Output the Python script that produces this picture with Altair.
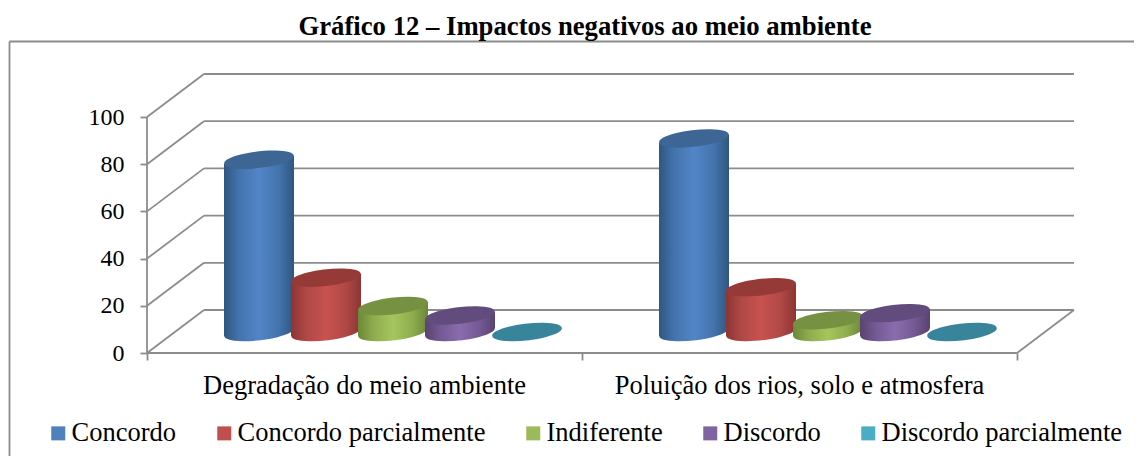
import altair as alt
import pandas as pd

TITLE = "Gráfico 12 – Impactos negativos ao meio ambiente"
CATEGORIES = ["Degradação do meio ambiente", "Poluição dos rios, solo e atmosfera"]
SERIES = ["Concordo", "Concordo parcialmente", "Indiferente", "Discordo", "Discordo parcialmente"]
VALUES = [
    [73, 82],
    [23, 19],
    [11, 5],
    [7, 8],
    [0, 0],
]
Y_TICKS = [0, 20, 40, 60, 80, 100]
LEGEND_COLORS = ["#4f81bd", "#c0504d", "#9bbb59", "#8064a2", "#4bacc6"]
TOP_COLORS = ["#3d6695", "#953a37", "#769141", "#624b7d", "#38859b"]
EDGE_COLORS = ["#2f5680", "#8c3533", "#6c8738", "#594370", "#38859b"]
MID_COLORS = ["#4474ad", "#b04946", "#8eac4e", "#745994", "#38859b"]
CENTER_COLORS = ["#5285c8", "#c8524f", "#a5c65c", "#8a6cae", "#38859b"]

FONT = "Liberation Serif"
GREY = "#8c8c8c"
PAGE_W, PAGE_H = 1126, 448
TOP = 33
PLOT_H = PAGE_H - TOP
X_UNIT = 435.0      # pixels per category
Y_UNIT = 2.36       # pixels per percent
BOTTOM_GAP = PAGE_H + 8 - 353
X_DOM = [-139 / X_UNIT, (PAGE_W - 139) / X_UNIT]
Y_DOM = [-BOTTOM_GAP / Y_UNIT, (PLOT_H - BOTTOM_GAP) / Y_UNIT]
DEPTH_X = 57 / X_UNIT
DEPTH_Y = 43 / Y_UNIT
BASE_Y = 21 / Y_UNIT
BAR_STEP = 67 / X_UNIT
BAR_HALF = 35 / X_UNIT
TILT = 4 / Y_UNIT
ELLIPSE = ("M-0.993,0.113 A1,0.23,-6.5,1,1,0.993,-0.113 "
           "A1,0.23,-6.5,1,1,-0.993,0.113 Z")

xs = alt.Scale(domain=X_DOM, nice=False, zero=False)
ys = alt.Scale(domain=Y_DOM, nice=False, zero=False)
X = lambda f: alt.X(f, type="quantitative", scale=xs, title=None)
Y = lambda f: alt.Y(f, type="quantitative", scale=ys, title=None)

# 3-D frame: left edge, floor front, floor side, wall lines and their diagonals
seg = []
seg.append((0, 0, 0, 100))
seg.append((0, 0, 2, 0))
seg.append((2, 0, 2 + DEPTH_X, DEPTH_Y))
for v in Y_TICKS:
    seg.append((0, v, DEPTH_X, v + DEPTH_Y))
    seg.append((DEPTH_X, v + DEPTH_Y, 2 + DEPTH_X, v + DEPTH_Y))
seg_df = pd.DataFrame(seg, columns=["x", "y", "x2", "y2"])

frame = alt.Chart(seg_df).mark_rule(color=GREY, strokeWidth=1.8).encode(
    x=alt.X("x:Q", scale=xs,
            axis=alt.Axis(values=[0, 1, 2], labels=False, title=None, domain=False, grid=False,
                          tickColor=GREY, tickSize=7, tickWidth=1.8, offset=-BOTTOM_GAP)),
    y=alt.Y("y:Q", scale=ys,
            axis=alt.Axis(values=Y_TICKS, title=None, domain=False, grid=False,
                          tickColor=GREY, tickSize=7, tickWidth=1.8, offset=-139,
                          labelFont=FONT, labelFontSize=24, labelColor="#000000", labelPadding=16)),
    x2="x2:Q", y2="y2:Q",
)

box_top = alt.Chart(pd.DataFrame({"a": [0]})).mark_rule(color=GREY, strokeWidth=1.8).encode(
    x=alt.value(1.5), x2=alt.value(PAGE_W), y=alt.value(0.5))
box_left = alt.Chart(pd.DataFrame({"a": [0]})).mark_rule(color=GREY, strokeWidth=1.8).encode(
    x=alt.value(1.5), y=alt.value(0.5), y2=alt.value(PLOT_H))

layers = [box_top, box_left, frame]

for s, name in enumerate(SERIES):
    grad = alt.Gradient(
        gradient="linear", x1=0, x2=1, y1=0, y2=0,
        stops=[
            alt.GradientStop(color=EDGE_COLORS[s], offset=0),
            alt.GradientStop(color=MID_COLORS[s], offset=0.22),
            alt.GradientStop(color=CENTER_COLORS[s], offset=0.5),
            alt.GradientStop(color=MID_COLORS[s], offset=0.78),
            alt.GradientStop(color=EDGE_COLORS[s], offset=1),
        ],
    )
    for c in range(len(CATEGORIES)):
        cx = c + 0.5 + DEPTH_X / 2 + (s - 2) * BAR_STEP
        val = VALUES[s][c]
        if val > 0:
            body = pd.DataFrame({
                "x": [cx - BAR_HALF, cx + BAR_HALF],
                "y": [BASE_Y + val - TILT, BASE_Y + val + TILT],
                "y2": [BASE_Y - TILT, BASE_Y + TILT],
            })
            layers.append(alt.Chart(body).mark_area(fill=grad, opacity=1, strokeWidth=0).encode(
                x=X("x"), y=Y("y"), y2="y2"))
            layers.append(alt.Chart(pd.DataFrame({"x": [cx], "y": [BASE_Y]})).mark_point(
                shape=ELLIPSE, size=4900, filled=True, fill=grad, opacity=1, strokeWidth=0
            ).encode(x=X("x"), y=Y("y")))
        layers.append(alt.Chart(pd.DataFrame({"x": [cx], "y": [BASE_Y + val]})).mark_point(
            shape=ELLIPSE, size=4900, filled=True, fill=TOP_COLORS[s], opacity=1, strokeWidth=0
        ).encode(x=X("x"), y=Y("y")))

cat_df = pd.DataFrame({"x": [0.5, 1.5], "y": [-33 / Y_UNIT] * 2, "t": CATEGORIES})
layers.append(alt.Chart(cat_df).mark_text(
    font=FONT, fontSize=26.5, color="#000000", baseline="middle", align="center"
).encode(x=X("x"), y=Y("y"), text="t:N"))

legend_df = pd.DataFrame({"s": SERIES})
layers.append(alt.Chart(legend_df).mark_square(size=0, opacity=1).encode(
    color=alt.Color("s:N", scale=alt.Scale(domain=SERIES, range=LEGEND_COLORS), sort=SERIES,
                    legend=alt.Legend(orient="none", legendX=37, legendY=379, direction="horizontal",
                                      title=None, symbolType="square", symbolSize=196,
                                      symbolStrokeWidth=0, labelFont=FONT, labelFontSize=26.5,
                                      labelColor="#000000", labelOffset=0, columnPadding=34,
                                      labelLimit=400)),
    x=alt.value(0), y=alt.value(0),
))

chart = alt.layer(*layers).properties(
    width=PAGE_W, height=PLOT_H,
    title=alt.TitleParams(TITLE, font=FONT, fontSize=26.7, fontWeight="bold", color="#000000",
                          anchor="middle", dx=14, dy=5, offset=5),
    padding={"left": 0, "top": TOP, "right": 0, "bottom": 0},
    autosize=alt.AutoSizeParams(type="none"),
).configure_view(stroke=None)

chart.save("out.html", embed_options={"renderer": "svg", "actions": False})
